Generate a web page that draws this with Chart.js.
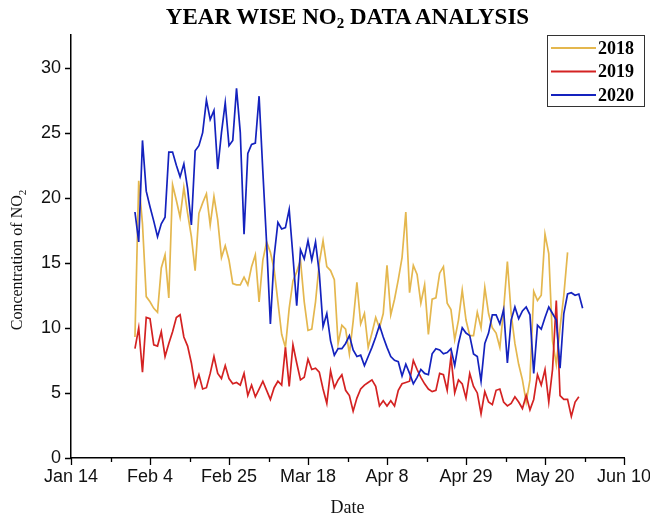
<!DOCTYPE html>
<html>
<head>
<meta charset="utf-8">
<script src="https://cdn.jsdelivr.net/npm/chart.js@4/dist/chart.umd.min.js"></script>
<style>
  html, body { margin: 0; padding: 0; background: #fff; }
  #wrap { position: relative; width: 650px; height: 520px; }
  #title {
    position: absolute; left: 0; top: 2px; width: 695px; text-align: center;
    font: bold 23px "Liberation Serif", "Times New Roman", serif; line-height: 30px; color: #000;
  }
  #title sub { font-size: 15px; line-height: 0; vertical-align: -4px; }
  canvas { position: absolute; left: 0; top: 0; }
</style>
</head>
<body>
<div id="wrap">
  <canvas id="chart" width="650" height="520"></canvas>
  <div id="title">YEAR WISE NO<sub>2</sub> DATA ANALYSIS</div>
</div>
<script>
// Axis tick labels (month-day, every three weeks)
const tickLabels = ['Jan 14', 'Feb 4', 'Feb 25', 'Mar 18', 'Apr 8', 'Apr 29', 'May 20', 'Jun 10'];

// Series names and first date of each daily record
const years = ['2018', '2019', '2020'];
const startDates = ['Jan 31', 'Jan 31', 'Jan 31'];

// Daily NO2 concentration, one value per day from the start date
const values2018 = [
  9.3, 21.3, 18.0, 12.4, 12.0, 11.5, 11.2, 14.6, 15.6, 12.3,
  21.0, 19.8, 18.5, 20.8, 18.8, 17.0, 14.4, 18.8, 19.6, 20.3,
  17.9, 20.1, 18.3, 15.4, 16.3, 15.2, 13.4, 13.3, 13.3, 13.9,
  13.3, 14.7, 15.6, 12.0, 15.2, 16.6, 15.8, 14.5, 12.0, 9.5,
  8.5, 11.5, 13.6, 14.3, 15.2, 12.0, 9.8, 9.9, 12.0, 15.0,
  16.7, 14.7, 14.4, 13.7, 8.8, 10.2, 9.9, 8.0, 10.5, 13.5,
  10.3, 11.1, 8.5, 9.6, 10.8, 10.0, 11.1, 14.8, 11.0, 12.2,
  13.7, 15.4, 18.9, 12.7, 14.8, 14.1, 11.9, 13.3, 9.5, 12.2,
  12.3, 14.2, 14.7, 11.9, 11.4, 9.1, 10.6, 12.9, 10.6, 9.4,
  9.4, 11.2, 10.0, 13.1, 11.1, 10.0, 9.6, 8.5, 11.4, 15.1,
  11.1, 8.8, 7.2, 6.0, 4.3, 6.0, 12.8, 12.1, 12.5, 17.2,
  15.7, 9.0, 7.2, 10.0, 12.5, 15.8
];
const values2019 = [
  8.4, 10.0, 6.6, 10.8, 10.7, 8.7, 8.6, 9.7, 7.8, 8.8,
  9.7, 10.8, 11.0, 9.3, 8.6, 7.3, 5.5, 6.4, 5.3, 5.4,
  6.5, 7.8, 6.5, 6.1, 7.1, 6.1, 5.7, 5.8, 5.6, 6.5,
  4.8, 5.6, 4.7, 5.3, 5.9, 5.2, 4.5, 5.4, 5.9, 5.6,
  8.5, 5.5, 8.7, 7.3, 6.0, 6.2, 7.6, 6.8, 6.9, 6.6,
  5.3, 4.2, 6.7, 5.4, 6.0, 6.4, 5.2, 4.8, 3.6, 4.6,
  5.3, 5.6, 5.8, 6.0, 5.5, 4.0, 4.4, 4.0, 4.4, 4.0,
  5.2, 5.7, 5.8, 5.9, 7.5, 6.8, 6.2, 5.7, 5.3, 5.1,
  5.2, 6.5, 6.4, 5.2, 7.8, 5.0, 6.0, 5.7, 4.6, 6.5,
  5.5, 5.0, 3.4, 5.1, 4.3, 4.1, 5.2, 5.3, 4.3, 4.0,
  4.2, 4.7, 4.3, 3.8, 4.8, 3.7, 4.5, 6.4, 5.6, 6.8,
  4.3, 6.8, 12.1, 4.8, 4.5, 4.5, 3.2, 4.3, 4.7
];
const values2020 = [
  18.9, 16.6, 24.4, 20.5, 19.3, 18.2, 17.0, 18.0, 18.5, 23.5,
  23.5, 22.5, 21.6, 22.6, 20.7, 17.9, 23.6, 24.0, 25.0, 27.5,
  26.0, 26.7, 22.2, 25.0, 27.3, 24.0, 24.4, 28.4, 25.0, 17.2,
  23.4, 24.1, 24.2, 27.8, 22.0, 16.5, 10.3, 15.5, 18.1, 17.6,
  17.7, 19.1, 15.5, 11.7, 16.0, 15.3, 16.7, 15.2, 16.6, 14.2,
  10.1, 11.1, 9.0, 7.9, 8.4, 8.4, 8.8, 9.4, 8.3, 7.8,
  7.9, 7.1, 7.8, 8.5, 9.3, 10.2, 9.3, 8.5, 7.8, 7.5,
  7.4, 6.3, 7.2, 6.5, 5.7, 6.2, 6.8, 6.5, 6.4, 8.0,
  8.4, 8.3, 8.0, 8.1, 8.4, 7.1, 8.8, 10.0, 9.6, 9.4,
  8.0, 7.8, 5.9, 8.8, 9.6, 11.0, 11.0, 10.3, 11.4, 7.3,
  10.6, 11.6, 10.7, 11.3, 11.6, 11.0, 6.5, 10.2, 9.9, 10.8,
  11.6, 11.1, 10.6, 6.9, 11.1, 12.6, 12.7, 12.5, 12.6, 11.5
];
const seriesValues = [values2018, values2019, values2020];
const seriesColors = ['#E4B74E', '#D42222', '#1422BE'];

// Day number counted from Jan 14 (common-year calendar)
const MONTHS = ['Jan', 'Feb', 'Mar', 'Apr', 'May', 'Jun'];
const MONTH_START = [0, 31, 59, 90, 120, 151];
function dayNumber(label) {
  const [m, d] = label.split(' ');
  return MONTH_START[MONTHS.indexOf(m)] + Number(d) - 14;
}
const tickValues = tickLabels.map(dayNumber);

const datasets = years.map((year, k) => {
  const start = dayNumber(startDates[k]);
  return {
    label: year,
    data: seriesValues[k].map((v, i) => ({ x: start + i, y: v })),
    borderColor: seriesColors[k],
    backgroundColor: seriesColors[k],
    borderWidth: 1.7,
    pointRadius: 0,
    tension: 0,
    order: 2 - k
  };
});

const SANS = '"Liberation Sans", Arial, sans-serif';
const SERIF = '"Liberation Serif", "Times New Roman", serif';

// Tick marks, axis titles (y title with subscript) and the boxed legend
const decor = {
  id: 'decor',
  afterDraw(chart) {
    const { ctx, scales: { x, y }, chartArea } = chart;
    ctx.save();
    ctx.strokeStyle = '#000';
    ctx.lineWidth = 1.3;
    ctx.beginPath();
    tickValues.forEach((v, i) => {
      const px = Math.round(x.getPixelForValue(v)) + 0.5;
      ctx.moveTo(px, chartArea.bottom);
      ctx.lineTo(px, chartArea.bottom + 7);
      if (i < tickValues.length - 1) {
        const mid = Math.round(x.getPixelForValue((v + tickValues[i + 1]) / 2)) + 0.5;
        ctx.moveTo(mid, chartArea.bottom);
        ctx.lineTo(mid, chartArea.bottom + 4);
      }
    });
    y.ticks.forEach(t => {
      const py = Math.round(y.getPixelForValue(t.value)) + 0.5;
      ctx.moveTo(chartArea.left, py);
      ctx.lineTo(chartArea.left - 6, py);
    });
    ctx.stroke();

    // x-axis title
    ctx.fillStyle = '#111';
    ctx.font = '18px ' + SERIF;
    ctx.textAlign = 'center';
    ctx.textBaseline = 'middle';
    ctx.fillText('Date', (chartArea.left + chartArea.right) / 2, 508);
    ctx.textAlign = 'left';

    // y-axis title
    ctx.translate(18, 260);
    ctx.rotate(-Math.PI / 2);
    ctx.font = '16px ' + SERIF;
    const main = 'Concentration of NO';
    const w1 = ctx.measureText(main).width;
    ctx.font = '11px ' + SERIF;
    const w2 = ctx.measureText('2').width;
    const x0 = -(w1 + w2) / 2;
    ctx.font = '16px ' + SERIF;
    ctx.fillText(main, x0, 0);
    ctx.font = '11px ' + SERIF;
    ctx.fillText('2', x0 + w1, 5);
    ctx.setTransform(1, 0, 0, 1, 0, 0);

    // legend
    const bx = 547.5, by = 35.5, bw = 97, bh = 71;
    ctx.fillStyle = '#fff';
    ctx.fillRect(bx, by, bw, bh);
    ctx.strokeStyle = '#333';
    ctx.lineWidth = 1;
    ctx.strokeRect(bx, by, bw, bh);
    ctx.font = 'bold 18px ' + SERIF;
    ctx.textBaseline = 'middle';
    chart.data.datasets.forEach((ds, i) => {
      const ry = 48 + i * 23.5;
      ctx.strokeStyle = ds.borderColor;
      ctx.lineWidth = 2;
      ctx.beginPath();
      ctx.moveTo(551, ry);
      ctx.lineTo(596, ry);
      ctx.stroke();
      ctx.fillStyle = '#000';
      ctx.fillText(ds.label, 598, ry + 1);
    });
    ctx.restore();
  }
};

new Chart(document.getElementById('chart'), {
  type: 'line',
  data: { datasets },
  options: {
    responsive: false,
    animation: false,
    layout: { padding: { top: 35, right: 26, left: 0, bottom: 0 } },
    plugins: { legend: { display: false }, title: { display: false }, tooltip: { enabled: false } },
    scales: {
      x: {
        type: 'linear',
        min: tickValues[0],
        max: tickValues[tickValues.length - 1],
        afterBuildTicks: s => { s.ticks = tickValues.map(v => ({ value: v })); },
        afterFit: s => { s.height = 62; s.paddingLeft = 0; s.paddingRight = 0; },
        grid: { display: false, drawTicks: false },
        border: { display: true, color: '#000', width: 1.5 },
        ticks: {
          padding: 8,
          color: '#111',
          font: { family: SANS, size: 18 },
          maxRotation: 0,
          autoSkip: false,
          callback: (v, i) => tickLabels[i]
        }
      },
      y: {
        type: 'linear',
        min: 0,
        max: 32.5,
        afterBuildTicks: s => { s.ticks = s.ticks.filter(t => t.value % 5 === 0); },
        afterFit: s => { s.width = 71; s.paddingTop = 0; s.paddingBottom = 0; },
        grid: { display: false, drawTicks: false },
        border: { display: true, color: '#000', width: 1.5 },
        ticks: {
          stepSize: 5,
          padding: 10,
          color: '#111',
          font: { family: SANS, size: 18 }
        }
      }
    }
  },
  plugins: [decor]
});
</script>
</body>
</html>
